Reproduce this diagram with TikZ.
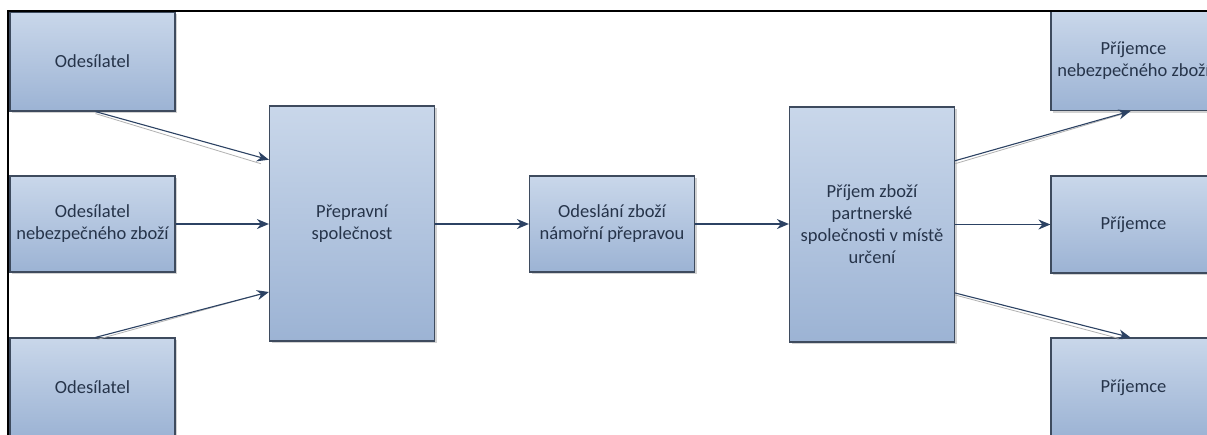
\documentclass[tikz,border=0pt]{standalone}
\usepackage{fontspec}
\setmainfont{Carlito}
\usetikzlibrary{shadows,arrows.meta,calc}
\definecolor{boxtop}{HTML}{C9D7EA}
\definecolor{boxbot}{HTML}{9CB3D4}
\definecolor{boxedge}{HTML}{3E4B5E}
\definecolor{arrowc}{HTML}{2C4263}
\definecolor{txt}{HTML}{26344A}
\tikzset{
  stepbox/.style={draw=boxedge, line width=1.2pt, top color=boxtop, bottom color=boxbot,
    minimum width=165pt, align=center, text=txt, inner sep=2pt,
    font=\fontsize{18.5}{22}\selectfont,
    drop shadow={shadow xshift=2pt, shadow yshift=-2pt, fill=black!35, opacity=0.5}},
  conn/.style={draw=arrowc, line width=1.1pt, -{Stealth[length=12pt,width=10pt]}},
  ghost/.style={draw=black!30, line width=0.8pt},
}
\begin{document}
\begin{tikzpicture}[x=1pt,y=-1pt]
\useasboundingbox (0,0) rectangle (1207,434);
\fill[white] (0,0) rectangle (1207,434);
\clip (0,0) rectangle (1207,434);
% nodes
\node[stepbox, minimum height=99pt] (s1) at (92.5,61.5) {Odesílatel};
\node[stepbox, minimum height=96pt] (s2) at (92.5,224) {Odesílatel\\nebezpečného zboží};
\node[stepbox, minimum height=99pt] (s3) at (92.5,387.5) {Odesílatel};
\node[stepbox, minimum height=235pt] (pr) at (352,223.5) {Přepravní\\společnost};
\node[stepbox, minimum height=96pt] (od) at (612,224) {Odeslání zboží\\námořní přepravou};
\node[stepbox, minimum height=235pt] (pz) at (872,224.5) {Příjem zboží\\partnerské\\společnosti v místě\\určení};
\node[stepbox, minimum height=99pt] (r1) at (1133.5,61) {Příjemce\\nebezpečného zboží};
\node[stepbox, minimum height=97pt] (r2) at (1133.5,224.5) {Příjemce};
\node[stepbox, minimum height=99pt] (r3) at (1133.5,387.5) {Příjemce};
% frame
\draw[black, line width=2pt] (8,436) -- (8,11) -- (1210,11);
% connector anchors
\coordinate (a1) at ([xshift=3pt]s1.south);
\coordinate (b1) at ($(pr.north west)!0.23!(pr.south west)$);
\coordinate (a3) at ([xshift=3pt]s3.north);
\coordinate (b3) at ($(pr.north west)!0.79!(pr.south west)$);
\coordinate (c1) at ($(pz.north east)!0.23!(pz.south east)$);
\coordinate (d1) at ([xshift=-3pt]r1.south);
\coordinate (c3) at ($(pz.north east)!0.79!(pz.south east)$);
\coordinate (d3) at ([xshift=-3pt]r3.north);
% ghost lines for diagonal connectors
\draw[ghost] ([shift={(0,2)}]a1) -- ([shift={(-8,4)}]b1);
\draw[ghost] ([shift={(2,2)}]a3) -- ([shift={(-8,2)}]b3);
\draw[ghost] ([shift={(0,3)}]c1) -- ([shift={(-8,3)}]d1);
\draw[ghost] ([shift={(0,2)}]c3) -- ([shift={(-8,2)}]d3);
% connectors
\draw[conn] (a1) -- (b1);
\draw[conn] (s2.east) -- (pr.west |- s2.east);
\draw[conn] (a3) -- (b3);
\draw[conn] (pr.east |- od.west) -- (od.west);
\draw[conn] (od.east) -- (pz.west |- od.east);
\draw[conn] (c1) -- (d1);
\draw[conn] (pz.east |- r2.west) -- (r2.west);
\draw[conn] (c3) -- (d3);
\end{tikzpicture}
\end{document}
